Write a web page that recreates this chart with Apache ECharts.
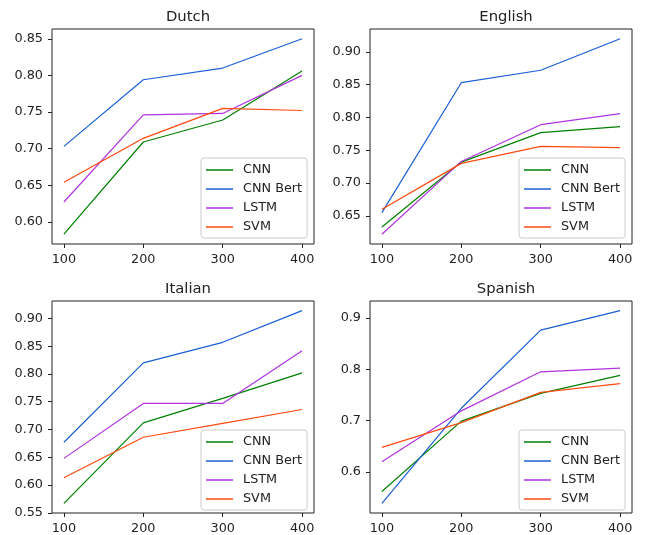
<!DOCTYPE html>
<html>
<head>
<meta charset="utf-8">
<script src="https://cdn.jsdelivr.net/npm/echarts@6/dist/echarts.min.js"></script>
<style>
  html, body { margin: 0; padding: 0; background: #fff; }
  #main { width: 646px; height: 535px; }
</style>
</head>
<body>
<div id="main"></div>
<script>
var sizes = [100, 200, 300, 400];
var models = ['CNN', 'CNN Bert', 'LSTM', 'SVM'];
var languages = ['Dutch', 'English', 'Italian', 'Spanish'];

// accuracy per model, one list per language
var dutchCNN = [0.583, 0.709, 0.739, 0.806];
var dutchBert = [0.703, 0.794, 0.810, 0.850];
var dutchLSTM = [0.627, 0.746, 0.748, 0.800];
var dutchSVM = [0.654, 0.714, 0.755, 0.752];

var englishCNN = [0.633, 0.732, 0.777, 0.786];
var englishBert = [0.655, 0.853, 0.872, 0.920];
var englishLSTM = [0.622, 0.733, 0.789, 0.806];
var englishSVM = [0.660, 0.730, 0.756, 0.754];

var italianCNN = [0.567, 0.712, 0.756, 0.802];
var italianBert = [0.677, 0.820, 0.857, 0.914];
var italianLSTM = [0.648, 0.747, 0.747, 0.842];
var italianSVM = [0.613, 0.686, 0.711, 0.736];

var spanishCNN = [0.562, 0.699, 0.753, 0.788];
var spanishBert = [0.539, 0.724, 0.876, 0.914];
var spanishLSTM = [0.620, 0.719, 0.795, 0.802];
var spanishSVM = [0.648, 0.696, 0.755, 0.772];

var dutchTicks = [0.60, 0.65, 0.70, 0.75, 0.80, 0.85];
var englishTicks = [0.65, 0.70, 0.75, 0.80, 0.85, 0.90];
var italianTicks = [0.55, 0.60, 0.65, 0.70, 0.75, 0.80, 0.85, 0.90];
var spanishTicks = [0.6, 0.7, 0.8, 0.9];
var tickDecimals = [2, 2, 2, 1];

(function () {
    var panelData = [
        [dutchCNN, dutchBert, dutchLSTM, dutchSVM],
        [englishCNN, englishBert, englishLSTM, englishSVM],
        [italianCNN, italianBert, italianLSTM, italianSVM],
        [spanishCNN, spanishBert, spanishLSTM, spanishSVM]
    ];
    var panelTicks = [dutchTicks, englishTicks, italianTicks, spanishTicks];

    var colors = ['#008000', '#1a5fd6', '#b032e0', '#ff4a10'];
    var font = 'DejaVu Sans';
    var ink = '#222';
    var fs = 12.8;

    // panel boxes (left, top) in px
    var boxes = [[52, 29], [370, 29], [52, 301], [370, 301]];
    var boxW = 262, boxH = 215;

    var myChart = echarts.init(document.getElementById('main'));

    var grids = [], xAxes = [], yAxes = [], titles = [], legends = [], series = [];

    panelData.forEach(function (lines, p) {
        var bx = boxes[p][0], by = boxes[p][1];
        var dec = tickDecimals[p];

        grids.push({
            left: bx, top: by, width: boxW, height: boxH,
            show: true, borderColor: ink, borderWidth: 1
        });

        // matplotlib style 5% margins
        var lo = Infinity, hi = -Infinity;
        lines.forEach(function (arr) {
            arr.forEach(function (v) { lo = Math.min(lo, v); hi = Math.max(hi, v); });
        });
        var pad = (hi - lo) * 0.05;
        var xPad = (sizes[sizes.length - 1] - sizes[0]) * 0.05;

        xAxes.push({
            gridIndex: p, type: 'value',
            min: sizes[0] - xPad, max: sizes[sizes.length - 1] + xPad,
            axisLine: { show: false },
            splitLine: { show: false },
            axisTick: { show: true, inside: false, length: 4, customValues: sizes, lineStyle: { color: ink } },
            axisLabel: { customValues: sizes, margin: 9, color: ink, fontFamily: font, fontSize: fs }
        });

        yAxes.push({
            gridIndex: p, type: 'value',
            min: lo - pad, max: hi + pad,
            axisLine: { show: false },
            splitLine: { show: false },
            axisTick: { show: true, inside: false, length: 4, customValues: panelTicks[p], lineStyle: { color: ink } },
            axisLabel: {
                customValues: panelTicks[p], margin: 9, color: ink, fontFamily: font, fontSize: fs,
                formatter: function (v) { return v.toFixed(dec); }
            }
        });

        titles.push({
            text: languages[p],
            left: bx + boxW / 2, top: by - 24, textAlign: 'center',
            textStyle: { fontFamily: font, fontSize: 14.8, fontWeight: 'normal', color: ink }
        });

        legends.push({
            data: models,
            orient: 'vertical',
            left: bx + 149, top: by + 129,
            icon: 'rect', itemWidth: 27, itemHeight: 1.5, itemGap: 5,
            padding: [5, 5, 4, 5],
            backgroundColor: 'rgba(255,255,255,0.85)',
            borderColor: '#ccc', borderWidth: 1, borderRadius: 3,
            selectedMode: false,
            textStyle: { fontFamily: font, fontSize: fs, color: ink, padding: [0, 0, 0, 5], lineHeight: 14 }
        });

        lines.forEach(function (vals, m) {
            series.push({
                name: models[m], type: 'line',
                xAxisIndex: p, yAxisIndex: p,
                data: sizes.map(function (s, i) { return [s, vals[i]]; }),
                symbol: 'none',
                color: colors[m],
                lineStyle: { width: 1.2, color: colors[m] }
            });
        });
    });

    var option = {
        backgroundColor: '#fff',
        animation: false,
        title: titles,
        legend: legends,
        grid: grids,
        xAxis: xAxes,
        yAxis: yAxes,
        series: series
    };

    myChart.setOption(option);
})();
</script>
</body>
</html>
